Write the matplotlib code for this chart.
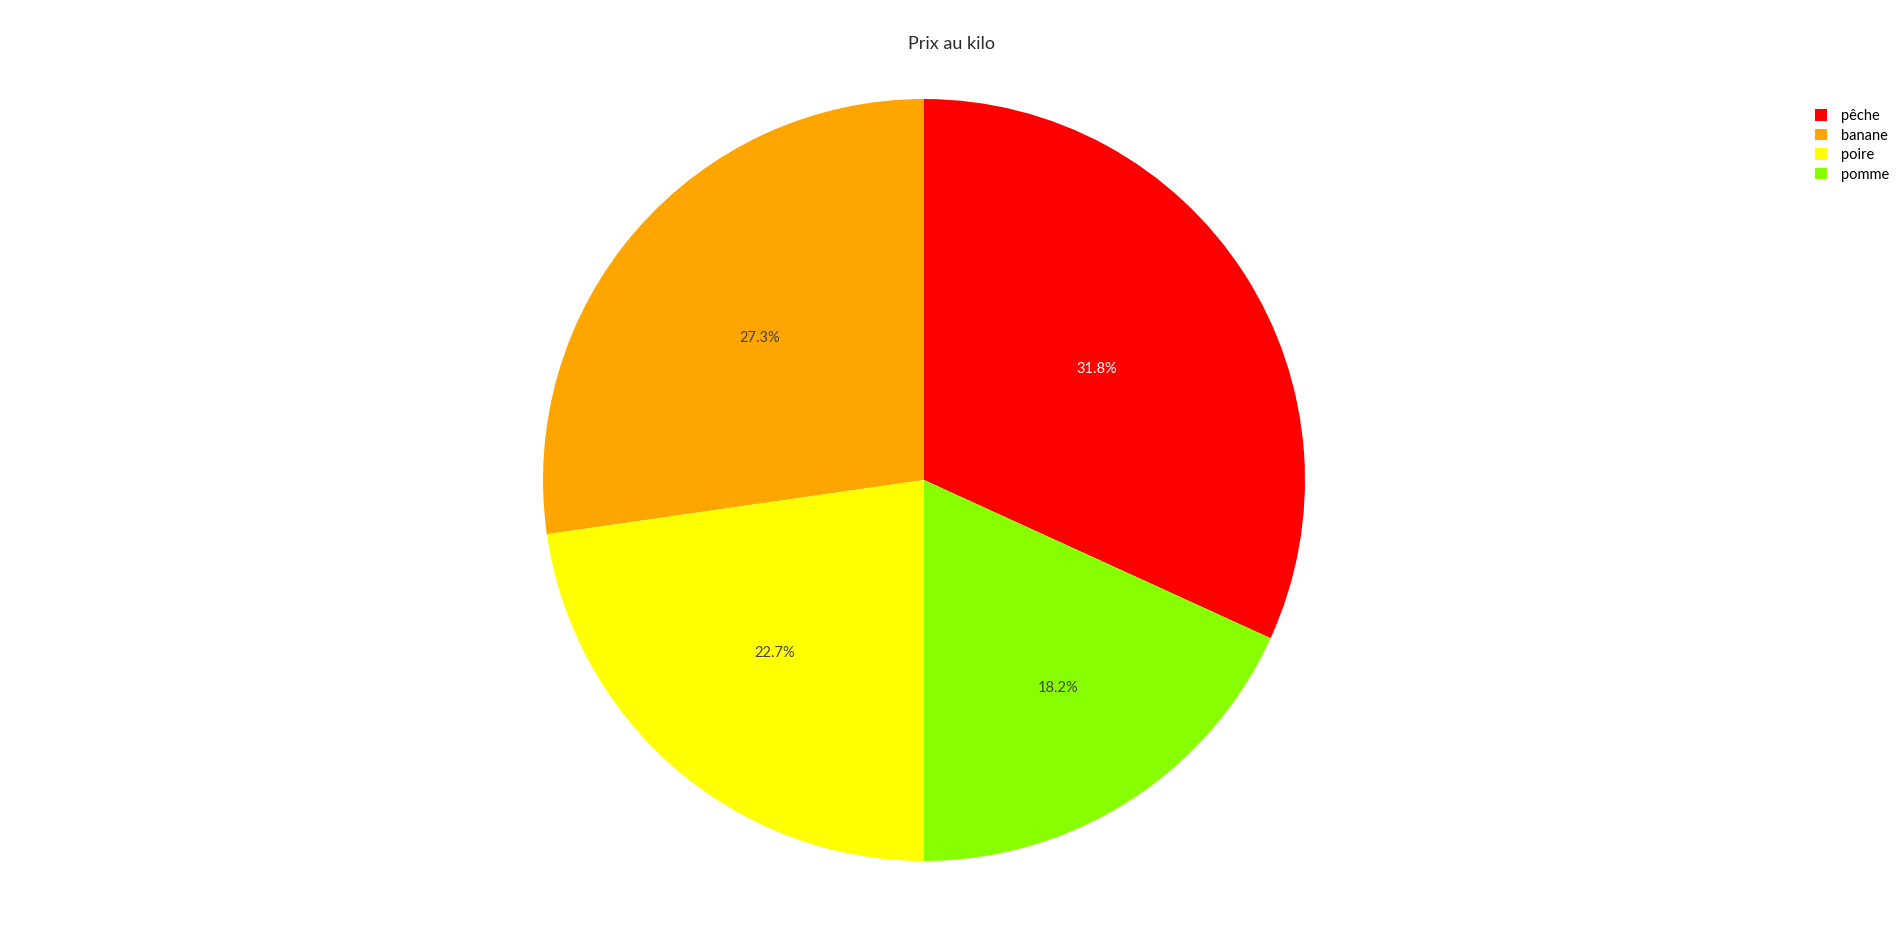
import matplotlib
matplotlib.use("Agg")
import matplotlib.pyplot as plt
from matplotlib.patches import Patch
import numpy as np

plt.rcParams['font.family'] = ['Lato', 'DejaVu Sans']

fruits = ["pêche", "banane", "poire", "pomme"]
prix = [7, 6, 5, 4]
couleurs = ["#ff0000", "#ffa500", "#ffff00", "#88ff00"]
couleurs_texte = ["white", "#444444", "#444444", "#444444"]
# radial position of each percentage label (fraction of radius)
dist_labels = [0.54, 0.57, 0.60, 0.65]

W, H = 1904, 941
fig = plt.figure(figsize=(W / 100, H / 100), dpi=100)

# pie centred at (924, 480) px, radius ~381 px
cx, cy, r = 924, 480, 381
ax = fig.add_axes([(cx - r) / W, 1 - (cy + r) / H, 2 * r / W, 2 * r / H])

start = 90 - 360 * prix[0] / sum(prix)
wedges, texts, autotexts = ax.pie(
    prix, colors=couleurs, startangle=start, counterclock=True,
    autopct="%1.1f%%", pctdistance=0.6,
    wedgeprops=dict(linewidth=0),
    textprops=dict(fontsize=10.5),
)
for w, t, c, d in zip(wedges, autotexts, couleurs_texte, dist_labels):
    ang = np.deg2rad((w.theta1 + w.theta2) / 2)
    t.set_position((d * np.cos(ang), d * np.sin(ang)))
    t.set_color(c)
ax.set_xlim(-1, 1)
ax.set_ylim(-1, 1)
ax.set_aspect("equal")

fig.text(952 / W, 1 - 44 / H, "Prix au kilo", ha="center", va="center",
         fontsize=13, color="#2a2a2a")

handles = [Patch(facecolor=c, edgecolor="none") for c in couleurs]
fig.legend(handles, fruits, loc="upper left",
           bbox_to_anchor=(1815 / W, 1 - 109 / H), frameon=False,
           fontsize=10.5, handlelength=0.8, handleheight=0.8,
           handletextpad=1.0, labelspacing=0.38, borderaxespad=0,
           borderpad=0)

fig.savefig("out.png", dpi=100)
